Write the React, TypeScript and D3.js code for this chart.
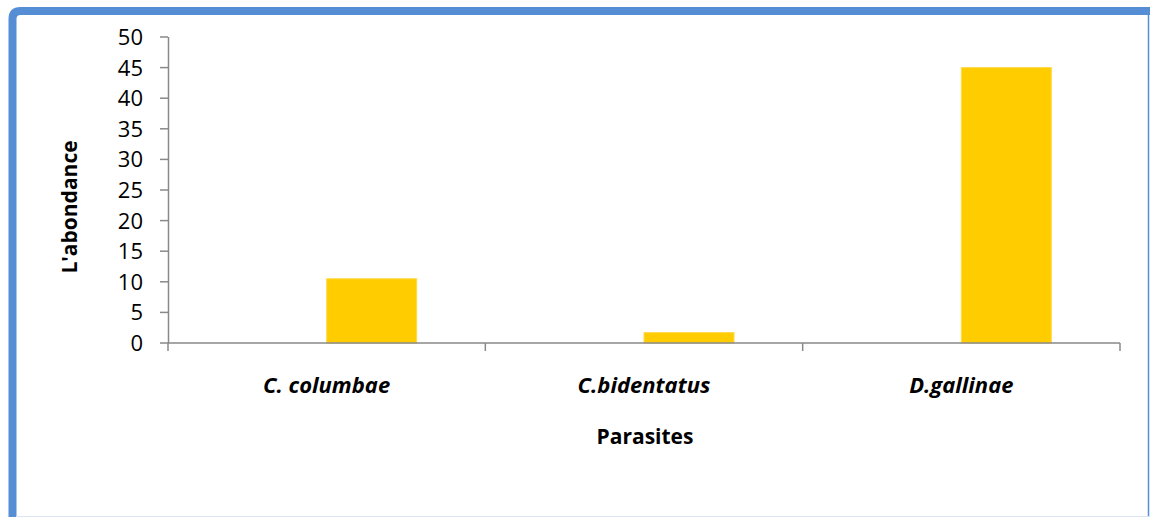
import React from 'react';
import * as d3 from 'd3';

// data
const categories = ['C. columbae', 'C.bidentatus', 'D.gallinae'];
const series = ['(vide)', "L'abondance"];
const abondance = [10.5, 1.7, 45];
const yTicks = [0, 5, 10, 15, 20, 25, 30, 35, 40, 45, 50];

const W = 1150;
const H = 517;
const plot = { left: 168, right: 1120, top: 37, bottom: 343 };
const font = "'Open Sans', 'Liberation Sans', sans-serif";
const axisColor = '#898989';
const frameBlue = '#558ed5';

const App: React.FC = () => {
  const y = d3.scaleLinear().domain([0, 50]).range([plot.bottom, plot.top]);
  const x = d3.scaleBand<string>().domain(categories).range([plot.left, plot.right]).padding(0);
  // Excel style clustered layout: 2 series, gap width ~150%, first series empty
  const xs = d3.scaleBand<string>().domain(series).range([0, x.bandwidth()]).paddingInner(0).paddingOuter(0.763);

  const tickEdges = [...categories.map(c => x(c) ?? 0), plot.right];

  return (
    <svg width={W} height={H} style={{ position: 'absolute', left: 0, top: 0 }}
      fontFamily={font}>
      <rect x={0} y={0} width={W} height={H} fill="#fff" />
      {/* frame */}
      <path d={`M12.5,${H} L12.5,19 Q12.5,11 20.5,11 L${W},11`} fill="none" stroke={frameBlue} strokeWidth={8} />
      <line x1={W - 1.5} x2={W - 1.5} y1={15} y2={H} stroke={frameBlue} strokeWidth={1.5} />
      <line x1={16} x2={W} y1={H - 0.5} y2={H - 0.5} stroke="#dbe5f4" strokeWidth={1} />

      {/* bars */}
      {categories.map((c, i) => (
        <rect key={c}
          x={(x(c) ?? 0) + (xs(series[1]) ?? 0)}
          y={y(abondance[i])}
          width={xs.bandwidth()}
          height={y(0) - y(abondance[i])}
          fill="#ffcc00" stroke="#ffd94a" strokeWidth={1} />
      ))}

      {/* y axis */}
      <line x1={plot.left + 0.5} x2={plot.left + 0.5} y1={plot.top} y2={plot.bottom} stroke={axisColor} strokeWidth={1.5} />
      {yTicks.map(t => (
        <g key={t}>
          <line x1={plot.left - 8} x2={plot.left} y1={y(t)} y2={y(t)} stroke={axisColor} strokeWidth={1.5} />
          <text x={143} y={y(t)} dy="0.36em" textAnchor="end" fontSize={22} fill="#000">{t}</text>
        </g>
      ))}

      {/* x axis */}
      <line x1={plot.left} x2={plot.right} y1={plot.bottom} y2={plot.bottom} stroke={axisColor} strokeWidth={1.5} />
      {tickEdges.map((tx, i) => (
        <line key={i} x1={tx} x2={tx} y1={plot.bottom} y2={plot.bottom + 8} stroke={axisColor} strokeWidth={1.5} />
      ))}
      {categories.map(c => (
        <text key={c} x={(x(c) ?? 0) + x.bandwidth() / 2} y={393} textAnchor="middle"
          fontSize={22} fontWeight="bold" fontStyle="italic" fill="#000">{c}</text>
      ))}

      {/* axis titles */}
      <text x={645} y={444} textAnchor="middle" fontSize={21} fontWeight="bold" fill="#000">Parasites</text>
      <text transform={`translate(77,${207}) rotate(-90)`} textAnchor="middle" fontSize={21} fontWeight="bold" fill="#000">L'abondance</text>
    </svg>
  );
};

export default App;
